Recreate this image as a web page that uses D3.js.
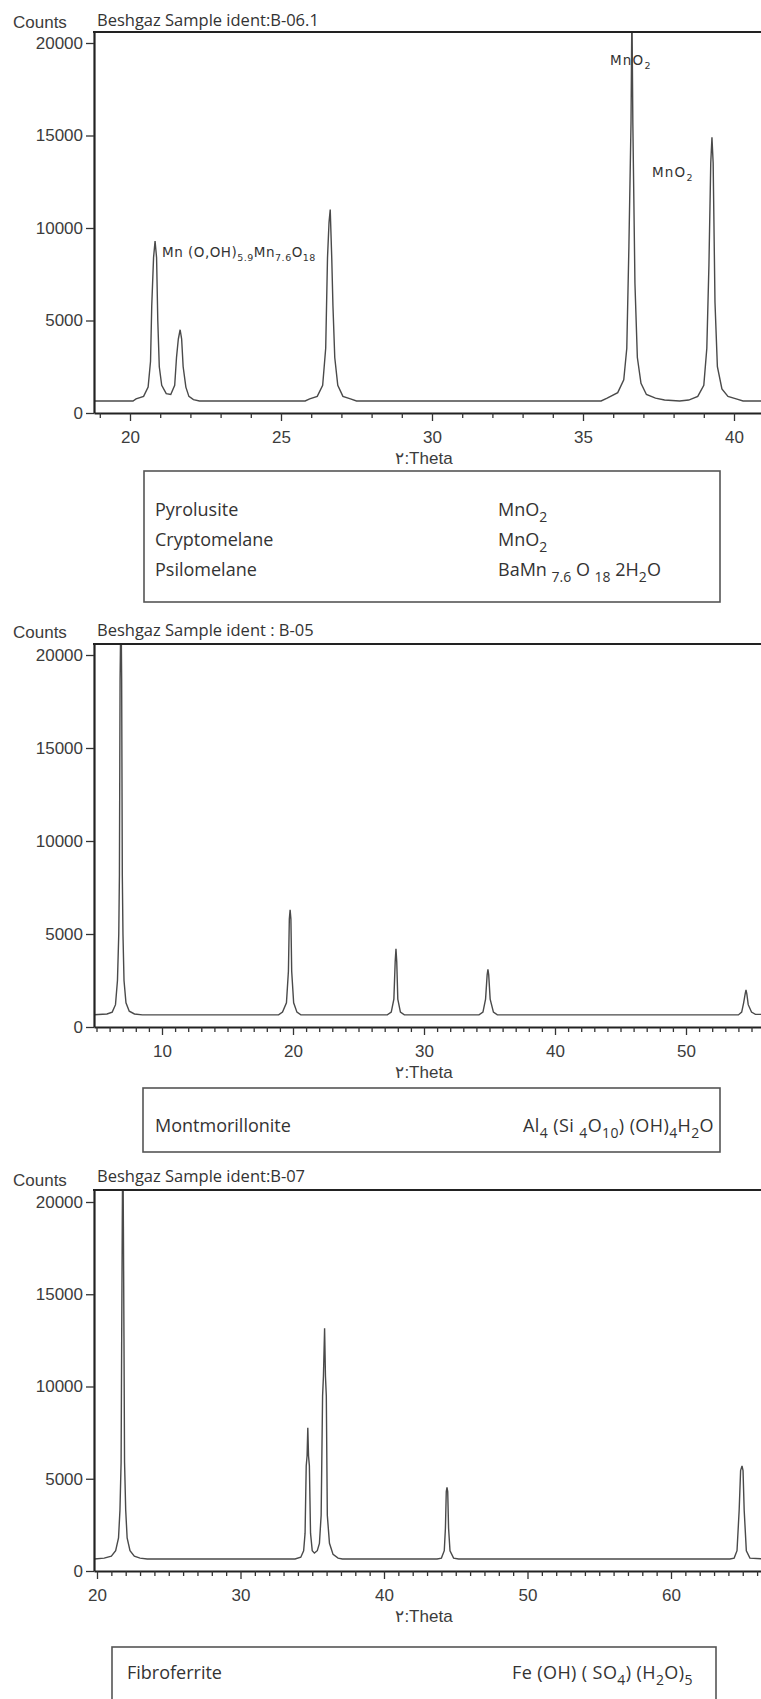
<!DOCTYPE html>
<html>
<head>
<meta charset="utf-8">
<script src="https://cdnjs.cloudflare.com/ajax/libs/d3/7.8.5/d3.min.js"></script>
<style>
    body { margin: 0; background: #fff; }
    .tick text { font-family: "Liberation Sans", Arial, sans-serif; font-size: 17px; fill: #3c3c3c; }
    .tick line { stroke: #333; stroke-width: 1.3; }
    .axis path.domain { stroke: #222; stroke-width: 2.2; }
    .counts, .theta { font-family: "Liberation Sans", Arial, sans-serif; font-size: 17px; fill: #3c3c3c; }
    .title { font-family: "Open Sans", "Noto Sans", sans-serif; font-size: 16.5px; fill: #333; }
    .phase { font-family: "Open Sans", "Noto Sans", sans-serif; font-size: 18px; fill: #333; }
    .peak-label { font-family: "DejaVu Sans", Verdana, sans-serif; font-size: 13.5px; fill: #333; }
</style>
</head>
<body>
<svg class="chart"></svg>
<script>
// ---- data: [2theta, counts] ----
const yTicks = [0, 5000, 10000, 15000, 20000];

const titleB061 = "Beshgaz  Sample ident:B-06.1";
const ticksB061 = [20, 25, 30, 35, 40];
const traceB061 = [
    [18.7, 650], [20.1, 650], [20.2, 760], [20.45, 900], [20.6, 1400], [20.68, 2800], [20.72, 5800],
    [20.78, 8400], [20.83, 9300], [20.88, 8400], [20.92, 5000], [20.97, 2500], [21.05, 1500],
    [21.2, 1050], [21.35, 1000], [21.48, 1500], [21.54, 3000], [21.6, 4000], [21.66, 4500],
    [21.71, 4000], [21.76, 2500], [21.85, 1400], [21.95, 900], [22.1, 720], [22.3, 650],
    [25.8, 650], [25.95, 760], [26.2, 900], [26.38, 1500], [26.48, 3500], [26.54, 8400],
    [26.59, 10300], [26.63, 11000], [26.68, 8400], [26.72, 5800], [26.78, 3000], [26.88, 1500],
    [27.05, 900], [27.3, 760], [27.5, 650],
    [35.6, 650], [35.8, 800], [36.15, 1100], [36.35, 1800], [36.45, 3500], [36.52, 9000],
    [36.59, 15700], [36.62, 22000], [36.65, 15700], [36.72, 7000], [36.8, 3000], [36.92, 1600],
    [37.1, 1000], [37.4, 800], [37.7, 700], [38.2, 650], [38.5, 700], [38.8, 900], [39.0, 1500],
    [39.1, 3500], [39.17, 8000], [39.23, 13500], [39.27, 14900], [39.31, 13500], [39.37, 6000],
    [39.45, 2500], [39.6, 1300], [39.8, 900], [40.1, 750], [40.3, 650], [41.0, 650]
];
const phasesB061 = ["Pyrolusite", "Cryptomelane", "Psilomelane"];
const formulasB061 = ["MnO_{2}", "MnO_{2}", "BaMn _{7.6} O _{18} 2H_{2}O"];
const peakTextB061 = ["MnO_{2}", "MnO_{2}", "Mn (O,OH)_{5.9}Mn_{7.6}O_{18}"];

const titleB05 = "Beshgaz Sample ident : B-05";
const ticksB05 = [10, 20, 30, 40, 50];
const traceB05 = [
    [4.7, 650], [5.8, 700], [6.2, 800], [6.45, 1200], [6.6, 2500], [6.7, 5000], [6.75, 8200],
    [6.8, 18700], [6.87, 23000], [6.92, 18700], [6.97, 8200], [7.02, 5000], [7.1, 2500],
    [7.25, 1300], [7.5, 850], [7.9, 700], [8.5, 650],
    [18.9, 650], [19.2, 800], [19.5, 1300], [19.65, 3000], [19.72, 5800], [19.78, 6300],
    [19.84, 5800], [19.9, 3000], [20.05, 1300], [20.3, 800], [20.6, 650],
    [27.2, 650], [27.5, 800], [27.7, 1500], [27.8, 3500], [27.86, 4200], [27.92, 3500],
    [28.0, 1500], [28.2, 800], [28.5, 650],
    [34.2, 650], [34.5, 800], [34.7, 1500], [34.82, 2800], [34.88, 3100], [34.94, 2800],
    [35.05, 1500], [35.3, 800], [35.6, 650],
    [54.0, 650], [54.25, 800], [54.4, 1300], [54.52, 1800], [54.58, 2000], [54.64, 1800],
    [54.75, 1200], [55.0, 800], [55.3, 680], [56.0, 680]
];
const phasesB05 = ["Montmorillonite"];
const formulasB05 = ["Al_{4} (Si _{4}O_{10}) (OH)_{4}H_{2}O"];

const titleB07 = "Beshgaz  Sample ident:B-07";
const ticksB07 = [20, 30, 40, 50, 60];
const traceB07 = [
    [19.8, 650], [20.5, 700], [21.0, 800], [21.3, 1100], [21.5, 1800], [21.6, 3300], [21.68, 5900],
    [21.72, 12600], [21.76, 18650], [21.8, 24000], [21.84, 18650], [21.88, 12600], [21.92, 5900],
    [22.0, 3300], [22.1, 1800], [22.3, 1100], [22.6, 800], [23.0, 700], [23.5, 650],
    [33.8, 650], [34.2, 750], [34.4, 1100], [34.5, 2050], [34.58, 5700], [34.64, 6250],
    [34.69, 7760], [34.74, 6250], [34.8, 5700], [34.88, 2050], [35.0, 1100], [35.15, 970],
    [35.35, 1100], [35.5, 1500], [35.62, 3020], [35.72, 9490], [35.78, 10570], [35.86, 13150],
    [35.92, 10570], [35.98, 9490], [36.05, 3020], [36.2, 1500], [36.45, 900], [36.8, 700], [37.1, 650],
    [43.7, 650], [44.0, 700], [44.2, 1100], [44.28, 2320], [44.34, 4300], [44.39, 4530],
    [44.44, 4300], [44.5, 2320], [44.6, 1100], [44.85, 700], [45.2, 650],
    [64.1, 650], [64.4, 700], [64.6, 1100], [64.75, 3290], [64.85, 5440], [64.95, 5700],
    [65.02, 5440], [65.1, 3290], [65.25, 1100], [65.5, 700], [66.5, 650]
];
const phasesB07 = ["Fibroferrite"];
const formulasB07 = ["Fe (OH) ( SO_{4}) (H_{2}O)_{5}"];

const thetaLabel = "۲:Theta";

// ---- layout ----
const canvas = {width: 761, height: 1699};
const plotLeft = 94, plotRight = 761;

const panels = [
    {trace: traceB061, ticks: ticksB061, title: titleB061, top: 32, y0: 413, y20k: 43,
     xRef: [20, 40], xPix: [130, 734], countsY: 28, titleY: 26,
     box: {x: 144, y: 471, w: 576, h: 131}, nameX: 155, formulaX: 498, rowY: [516, 546, 576],
     names: phasesB061, formulas: formulasB061, formulaSpacing: 0,
     peakLabels: [{x: 610, y: 65, ls: 1.2}, {x: 652, y: 177, ls: 1.2}, {x: 162, y: 257, ls: 0.5}],
     peakText: peakTextB061},
    {trace: traceB05, ticks: ticksB05, title: titleB05, top: 644, y0: 1027, y20k: 655,
     xRef: [10, 50], xPix: [162, 686], countsY: 638, titleY: 636,
     box: {x: 143, y: 1088, w: 577, h: 64}, nameX: 155, formulaX: 523, rowY: [1132],
     names: phasesB05, formulas: formulasB05, formulaSpacing: 0.4, peakLabels: [], peakText: []},
    {trace: traceB07, ticks: ticksB07, title: titleB07, top: 1190, y0: 1571, y20k: 1202,
     xRef: [20, 60], xPix: [97, 671], countsY: 1186, titleY: 1182,
     box: {x: 112, y: 1647, w: 604, h: 70}, nameX: 127, formulaX: 512, rowY: [1679],
     names: phasesB07, formulas: formulasB07, formulaSpacing: 0.4, peakLabels: [], peakText: []}
];

const svg = d3.select(".chart")
    .attr("width", canvas.width)
    .attr("height", canvas.height);

// text with _{..} subscripts
function richText(sel, str, subSize, subDy) {
    const parts = str.split(/(_\{[^}]*\})/).filter(s => s.length);
    let shift = 0;
    parts.forEach(function (s) {
        if (s.startsWith("_{")) {
            sel.append("tspan").attr("font-size", subSize).attr("dy", subDy - shift).text(s.slice(2, -1));
            shift = subDy;
        } else {
            sel.append("tspan").attr("dy", -shift).text(s);
            shift = 0;
        }
    });
}

panels.forEach(function (p, i) {
    const x = d3.scaleLinear().domain(p.xRef).range(p.xPix);
    x.domain([x.invert(plotLeft), x.invert(plotRight)]).range([plotLeft, plotRight]);

    const y = d3.scaleLinear().domain([0, 20000]).range([p.y0, p.y20k]);
    y.domain([0, y.invert(p.top)]).range([p.y0, p.top]);

    const g = svg.append("g");

    g.append("clipPath").attr("id", "clip" + i)
        .append("rect")
        .attr("x", plotLeft).attr("y", p.top)
        .attr("width", plotRight - plotLeft).attr("height", p.y0 - p.top);

    const line = d3.line().x(d => x(d[0])).y(d => y(d[1]));

    g.append("path")
        .datum(p.trace)
        .attr("clip-path", "url(#clip" + i + ")")
        .attr("d", line)
        .attr("fill", "none")
        .attr("stroke", "#4a4a4a")
        .attr("stroke-width", 1.4);

    // minor x ticks at every degree
    const xd = x.domain();
    const minor = d3.range(Math.ceil(xd[0]), Math.floor(xd[1]) + 1).filter(v => p.ticks.indexOf(v) < 0);

    g.append("g")
        .attr("class", "axis")
        .attr("transform", "translate(0," + p.y0 + ")")
        .call(d3.axisBottom(x).tickValues(minor).tickSize(5).tickSizeOuter(0).tickFormat(""));

    g.append("g")
        .attr("class", "axis")
        .attr("transform", "translate(0," + p.y0 + ")")
        .call(d3.axisBottom(x).tickValues(p.ticks).tickSize(8).tickSizeOuter(0).tickPadding(10).tickFormat(d3.format("d")))
        .select(".domain").remove();

    g.append("g")
        .attr("class", "axis")
        .attr("transform", "translate(" + plotLeft + ",0)")
        .call(d3.axisLeft(y).tickValues(yTicks).tickSize(8).tickSizeOuter(0).tickPadding(3).tickFormat(d3.format("d")));

    // top frame
    g.append("line")
        .attr("x1", plotLeft - 1).attr("x2", plotRight)
        .attr("y1", p.top).attr("y2", p.top)
        .attr("stroke", "#222").attr("stroke-width", 2.2);

    g.append("text").attr("class", "counts")
        .attr("x", 13).attr("y", p.countsY).text("Counts");

    g.append("text").attr("class", "title")
        .attr("x", 97).attr("y", p.titleY).text(p.title);

    g.append("text").attr("class", "theta")
        .attr("x", 424).attr("y", p.y0 + 51)
        .attr("text-anchor", "middle").text(thetaLabel);

    p.peakLabels.forEach(function (pos, k) {
        const t = g.append("text").attr("class", "peak-label")
            .attr("x", pos.x).attr("y", pos.y)
            .attr("letter-spacing", pos.ls);
        richText(t, p.peakText[k], 9.5, 4);
    });

    // phase box
    g.append("rect")
        .attr("x", p.box.x).attr("y", p.box.y)
        .attr("width", p.box.w).attr("height", p.box.h)
        .attr("fill", "none").attr("stroke", "#555").attr("stroke-width", 1.6);

    p.names.forEach(function (name, k) {
        g.append("text").attr("class", "phase")
            .attr("x", p.nameX).attr("y", p.rowY[k]).text(name);
        const t = g.append("text").attr("class", "phase")
            .attr("x", p.formulaX).attr("y", p.rowY[k])
            .attr("letter-spacing", p.formulaSpacing);
        richText(t, p.formulas[k], 14, 6);
    });
});
</script>
</body>
</html>
